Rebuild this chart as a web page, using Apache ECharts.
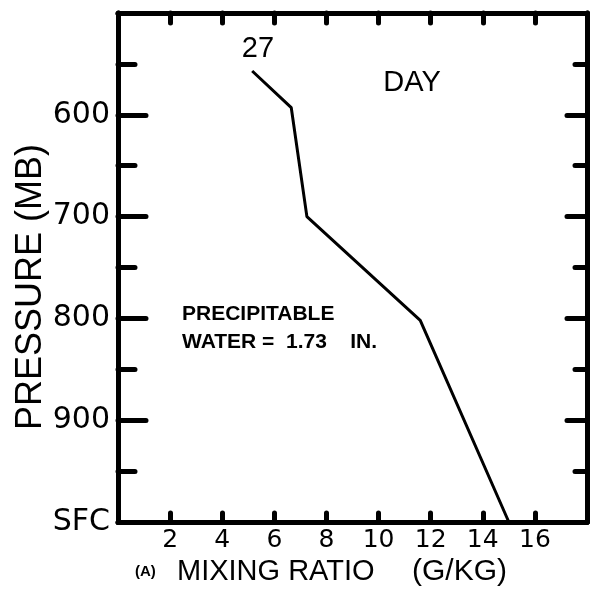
<!DOCTYPE html>
<html>
<head>
<meta charset="utf-8">
<script src="https://cdn.jsdelivr.net/npm/echarts@6/dist/echarts.min.js"></script>
<style>html,body{margin:0;padding:0;background:#fff}#c{width:592px;height:592px}</style>
</head>
<body>
<div id="c"></div>
<script>
// Data
const mixingRatio = [5.15, 6.65, 7.25, 11.6, 15.0];   // g/kg
const pressure    = [557, 593, 700, 802, 1000];      // mb (1000 = SFC)
const xTickValues = [2, 4, 6, 8, 10, 12, 14, 16];
const yTickLabels = {600: '600', 700: '700', 800: '800', 900: '900', 1000: 'SFC'};
const seriesLabel = '27';
const dayLabel = 'DAY';
const noteLines = ['PRECIPITABLE', 'WATER =  1.73    IN.'];

const chart = echarts.init(document.getElementById('c'));
const black = '#000';
const tickFont = 'DejaVu Sans';

function yAxisDef(pos, showLabel, major, minor) {
  return {
    type: 'value', inverse: true, min: 500, max: 1000, interval: 100, position: pos,
    axisLine: {show: true, onZero: false, lineStyle: {color: black, width: 5}},
    axisTick: {show: true, inside: true, length: major, lineStyle: {color: black, width: 5, cap: 'round'}},
    minorTick: {show: true, splitNumber: 2, length: minor, lineStyle: {color: black, width: 5, cap: 'round'}},
    splitLine: {show: false}, minorSplitLine: {show: false},
    axisLabel: {show: showLabel, margin: 8, color: black, fontFamily: tickFont, fontSize: 30,
      formatter: v => yTickLabels[v] || ''}
  };
}
function xAxisDef(pos, showLabel, len) {
  return {
    type: 'value', min: 0, max: 18, interval: 2, position: pos,
    axisLine: {show: true, onZero: false, lineStyle: {color: black, width: 5}},
    axisTick: {show: true, inside: true, length: len, lineStyle: {color: black, width: 5, cap: 'round'}},
    splitLine: {show: false},
    axisLabel: {show: showLabel, margin: 6, color: black, fontFamily: tickFont, fontSize: 25,
      formatter: v => xTickValues.indexOf(v) >= 0 ? String(v) : ''}
  };
}

chart.setOption({
  animation: false,
  backgroundColor: '#fff',
  grid: {left: 118, right: 5, top: 13, bottom: 70, containLabel: false},
  xAxis: [xAxisDef('bottom', true, 9), xAxisDef('top', false, 10)],
  yAxis: [yAxisDef('left', true, 28, 17), yAxisDef('right', false, 20, 12)],
  series: [{
    type: 'line', xAxisIndex: 0, yAxisIndex: 0, symbol: 'none',
    lineStyle: {color: black, width: 3},
    data: mixingRatio.map((v, i) => [v, pressure[i]])
  }],
  graphic: [
    {type: 'text', x: 258, y: 49, style: {text: seriesLabel, fill: black, font: '29px "Liberation Sans"', textAlign: 'center', textVerticalAlign: 'middle'}},
    {type: 'text', x: 412, y: 83, style: {text: dayLabel, fill: black, font: '29px "Liberation Sans"', textAlign: 'center', textVerticalAlign: 'middle'}},
    {type: 'text', x: 182, y: 314, style: {text: noteLines[0], fill: black, font: 'bold 21px "Liberation Sans"', textAlign: 'left', textVerticalAlign: 'middle'}},
    {type: 'text', x: 182, y: 342, style: {text: noteLines[1], fill: black, font: 'bold 21px "Liberation Sans"', textAlign: 'left', textVerticalAlign: 'middle'}},
    {type: 'text', x: 31, y: 287, rotation: Math.PI / 2, style: {text: 'PRESSURE (MB)', fill: black, font: '36px "Liberation Sans"', textAlign: 'center', textVerticalAlign: 'middle'}},
    {type: 'text', x: 135, y: 572, style: {text: '(A)', fill: black, font: 'bold 15px "Liberation Sans"', textAlign: 'left', textVerticalAlign: 'middle'}},
    {type: 'text', x: 177, y: 572, style: {text: 'MIXING RATIO', fill: black, font: '29px "Liberation Sans"', textAlign: 'left', textVerticalAlign: 'middle'}},
    {type: 'text', x: 412, y: 572, style: {text: '(G/KG)', fill: black, font: '30px "Liberation Sans"', textAlign: 'left', textVerticalAlign: 'middle'}}
  ]
});
</script>
</body>
</html>
